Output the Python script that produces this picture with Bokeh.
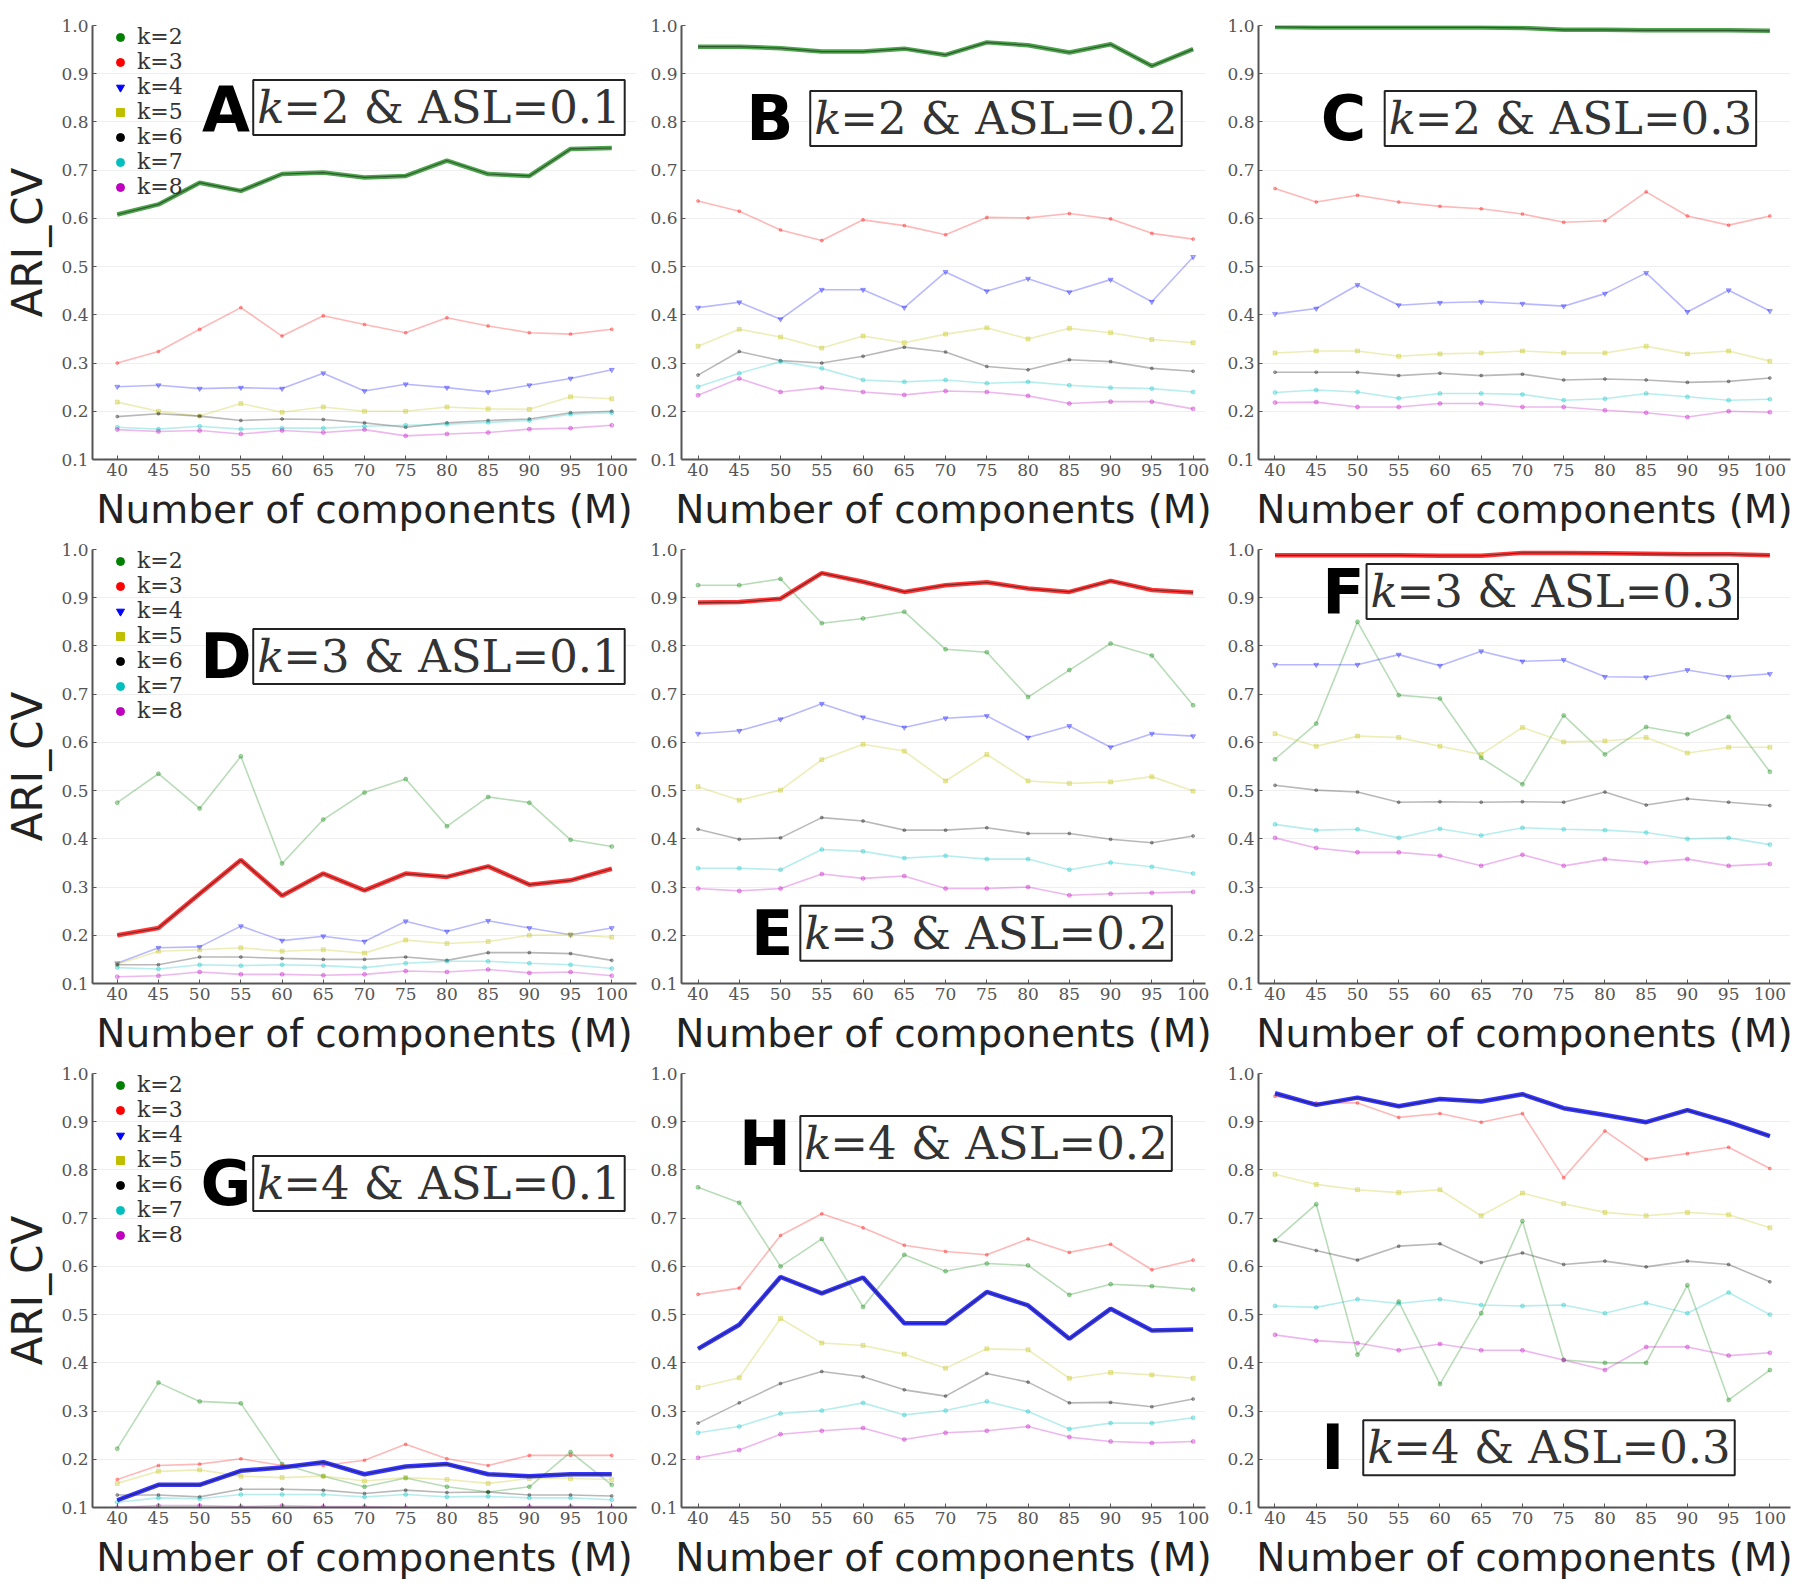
from bokeh.plotting import figure
from bokeh.layouts import gridplot
from bokeh.models import (FixedTicker, Range1d, Label, Legend, LegendItem,
                          CustomJSTickFormatter)
from bokeh.embed import file_html
from bokeh.resources import INLINE

# ---------------- data ----------------
M = [40, 45, 50, 55, 60, 65, 70, 75, 80, 85, 90, 95, 100]
Y_TICKS = [0.1, 0.2, 0.3, 0.4, 0.5, 0.6, 0.7, 0.8, 0.9, 1.0]
K_LABELS = ["k=2", "k=3", "k=4", "k=5", "k=6", "k=7", "k=8"]

A_k2 = [0.608, 0.629, 0.674, 0.657, 0.692, 0.695, 0.685, 0.688, 0.720, 0.692, 0.688, 0.744, 0.746]
A_k3 = [0.300, 0.324, 0.370, 0.415, 0.356, 0.398, 0.380, 0.363, 0.394, 0.377, 0.363, 0.360, 0.370]
A_k4 = [0.251, 0.254, 0.247, 0.249, 0.247, 0.279, 0.242, 0.256, 0.249, 0.240, 0.254, 0.268, 0.286]
A_k5 = [0.219, 0.200, 0.190, 0.216, 0.198, 0.209, 0.200, 0.200, 0.209, 0.205, 0.204, 0.230, 0.226]
A_k6 = [0.189, 0.195, 0.190, 0.181, 0.184, 0.183, 0.176, 0.167, 0.176, 0.181, 0.184, 0.197, 0.200]
A_k7 = [0.167, 0.163, 0.169, 0.163, 0.165, 0.165, 0.169, 0.171, 0.173, 0.177, 0.181, 0.194, 0.197]
A_k8 = [0.162, 0.158, 0.160, 0.153, 0.160, 0.156, 0.162, 0.149, 0.153, 0.156, 0.163, 0.165, 0.171]

B_k2 = [0.956, 0.956, 0.953, 0.946, 0.946, 0.952, 0.939, 0.965, 0.959, 0.944, 0.961, 0.916, 0.951]
B_k3 = [0.636, 0.615, 0.576, 0.554, 0.597, 0.585, 0.566, 0.602, 0.601, 0.610, 0.599, 0.569, 0.557]
B_k4 = [0.415, 0.426, 0.391, 0.452, 0.452, 0.415, 0.489, 0.449, 0.475, 0.447, 0.473, 0.427, 0.520]
B_k5 = [0.335, 0.370, 0.354, 0.331, 0.356, 0.342, 0.360, 0.373, 0.350, 0.372, 0.363, 0.349, 0.342]
B_k6 = [0.275, 0.324, 0.305, 0.300, 0.314, 0.333, 0.323, 0.293, 0.286, 0.307, 0.303, 0.289, 0.283]
B_k7 = [0.251, 0.279, 0.303, 0.289, 0.265, 0.261, 0.265, 0.258, 0.261, 0.254, 0.249, 0.247, 0.240]
B_k8 = [0.233, 0.268, 0.240, 0.249, 0.240, 0.234, 0.242, 0.240, 0.232, 0.216, 0.220, 0.220, 0.205]

C_k2 = [0.997, 0.996, 0.996, 0.996, 0.996, 0.996, 0.995, 0.991, 0.991, 0.990, 0.990, 0.990, 0.989]
C_k3 = [0.662, 0.634, 0.648, 0.634, 0.625, 0.620, 0.609, 0.592, 0.595, 0.655, 0.605, 0.586, 0.605]
C_k4 = [0.402, 0.413, 0.462, 0.420, 0.425, 0.427, 0.423, 0.418, 0.444, 0.487, 0.406, 0.451, 0.408]
C_k5 = [0.321, 0.325, 0.325, 0.314, 0.319, 0.321, 0.325, 0.321, 0.321, 0.335, 0.319, 0.325, 0.304]
C_k6 = [0.281, 0.281, 0.281, 0.274, 0.279, 0.274, 0.277, 0.265, 0.267, 0.265, 0.260, 0.262, 0.269]
C_k7 = [0.239, 0.244, 0.240, 0.227, 0.237, 0.237, 0.235, 0.223, 0.226, 0.237, 0.230, 0.223, 0.225]
C_k8 = [0.218, 0.219, 0.209, 0.209, 0.216, 0.216, 0.209, 0.209, 0.202, 0.197, 0.188, 0.200, 0.198]

D_k2 = [0.475, 0.535, 0.463, 0.571, 0.349, 0.440, 0.496, 0.524, 0.426, 0.487, 0.475, 0.398, 0.384]
D_k3 = [0.200, 0.215, 0.286, 0.356, 0.282, 0.328, 0.293, 0.328, 0.321, 0.343, 0.305, 0.314, 0.338]
D_k4 = [0.142, 0.174, 0.176, 0.219, 0.189, 0.198, 0.187, 0.229, 0.208, 0.230, 0.215, 0.201, 0.215]
D_k5 = [0.140, 0.167, 0.170, 0.174, 0.167, 0.170, 0.163, 0.190, 0.183, 0.187, 0.200, 0.201, 0.196]
D_k6 = [0.139, 0.139, 0.155, 0.155, 0.152, 0.150, 0.150, 0.155, 0.148, 0.164, 0.164, 0.162, 0.148]
D_k7 = [0.133, 0.130, 0.139, 0.137, 0.139, 0.137, 0.133, 0.142, 0.146, 0.146, 0.142, 0.139, 0.131]
D_k8 = [0.114, 0.116, 0.124, 0.119, 0.119, 0.117, 0.119, 0.126, 0.124, 0.129, 0.122, 0.124, 0.116]

E_k2 = [0.926, 0.926, 0.939, 0.847, 0.857, 0.871, 0.793, 0.787, 0.694, 0.750, 0.805, 0.780, 0.677]
E_k3 = [0.890, 0.891, 0.898, 0.951, 0.933, 0.912, 0.926, 0.932, 0.919, 0.912, 0.935, 0.916, 0.911]
E_k4 = [0.618, 0.624, 0.648, 0.680, 0.652, 0.631, 0.650, 0.655, 0.610, 0.634, 0.590, 0.618, 0.613]
E_k5 = [0.508, 0.480, 0.501, 0.564, 0.596, 0.582, 0.520, 0.575, 0.520, 0.515, 0.518, 0.529, 0.499]
E_k6 = [0.420, 0.399, 0.402, 0.444, 0.437, 0.418, 0.418, 0.423, 0.411, 0.411, 0.399, 0.392, 0.406]
E_k7 = [0.339, 0.339, 0.336, 0.378, 0.374, 0.360, 0.365, 0.358, 0.358, 0.336, 0.351, 0.342, 0.328]
E_k8 = [0.297, 0.292, 0.297, 0.327, 0.318, 0.323, 0.297, 0.297, 0.300, 0.283, 0.286, 0.288, 0.290]

F_k2 = [0.565, 0.639, 0.850, 0.698, 0.691, 0.568, 0.513, 0.656, 0.575, 0.632, 0.617, 0.653, 0.539]
F_k3 = [0.988, 0.988, 0.988, 0.988, 0.987, 0.987, 0.993, 0.993, 0.992, 0.991, 0.990, 0.990, 0.988]
F_k4 = [0.761, 0.761, 0.761, 0.782, 0.759, 0.789, 0.768, 0.771, 0.736, 0.735, 0.750, 0.736, 0.742]
F_k5 = [0.618, 0.592, 0.613, 0.610, 0.592, 0.575, 0.631, 0.601, 0.603, 0.610, 0.578, 0.590, 0.590]
F_k6 = [0.511, 0.501, 0.497, 0.476, 0.477, 0.476, 0.477, 0.476, 0.497, 0.470, 0.483, 0.476, 0.469]
F_k7 = [0.430, 0.418, 0.420, 0.402, 0.421, 0.407, 0.423, 0.420, 0.418, 0.413, 0.400, 0.402, 0.388]
F_k8 = [0.402, 0.381, 0.372, 0.372, 0.365, 0.344, 0.367, 0.344, 0.358, 0.351, 0.358, 0.344, 0.348]

G_k2 = [0.222, 0.359, 0.320, 0.316, 0.190, 0.165, 0.143, 0.161, 0.143, 0.132, 0.143, 0.215, 0.147]
G_k3 = [0.158, 0.187, 0.190, 0.201, 0.187, 0.187, 0.198, 0.231, 0.201, 0.187, 0.208, 0.208, 0.208]
G_k4 = [0.115, 0.147, 0.147, 0.176, 0.183, 0.194, 0.169, 0.185, 0.190, 0.169, 0.165, 0.169, 0.169]
G_k5 = [0.150, 0.175, 0.178, 0.165, 0.162, 0.165, 0.155, 0.162, 0.158, 0.150, 0.160, 0.160, 0.158]
G_k6 = [0.126, 0.126, 0.122, 0.138, 0.138, 0.136, 0.129, 0.136, 0.131, 0.132, 0.126, 0.126, 0.124]
G_k7 = [0.111, 0.120, 0.118, 0.127, 0.127, 0.127, 0.122, 0.127, 0.122, 0.123, 0.120, 0.120, 0.116]
G_k8 = [0.100, 0.104, 0.104, 0.102, 0.104, 0.102, 0.102, 0.100, 0.100, 0.100, 0.102, 0.102, 0.100]

H_k2 = [0.764, 0.732, 0.600, 0.657, 0.516, 0.624, 0.590, 0.606, 0.602, 0.541, 0.563, 0.559, 0.552]
H_k3 = [0.542, 0.555, 0.664, 0.709, 0.680, 0.644, 0.631, 0.624, 0.657, 0.629, 0.646, 0.593, 0.613]
H_k4 = [0.429, 0.479, 0.578, 0.544, 0.577, 0.482, 0.482, 0.547, 0.519, 0.450, 0.512, 0.467, 0.469]
H_k5 = [0.349, 0.369, 0.492, 0.441, 0.436, 0.418, 0.389, 0.429, 0.427, 0.368, 0.380, 0.375, 0.368]
H_k6 = [0.275, 0.317, 0.357, 0.382, 0.371, 0.344, 0.331, 0.378, 0.360, 0.317, 0.318, 0.309, 0.325]
H_k7 = [0.255, 0.268, 0.295, 0.301, 0.317, 0.292, 0.301, 0.320, 0.299, 0.263, 0.275, 0.275, 0.286]
H_k8 = [0.203, 0.219, 0.252, 0.259, 0.265, 0.241, 0.255, 0.259, 0.268, 0.246, 0.237, 0.234, 0.237]

I_k2 = [0.654, 0.729, 0.417, 0.527, 0.356, 0.503, 0.694, 0.406, 0.400, 0.400, 0.561, 0.323, 0.385]
I_k3 = [0.953, 0.939, 0.939, 0.909, 0.917, 0.899, 0.917, 0.784, 0.881, 0.822, 0.834, 0.847, 0.803]
I_k4 = [0.959, 0.935, 0.950, 0.932, 0.947, 0.942, 0.957, 0.928, 0.914, 0.899, 0.924, 0.899, 0.870]
I_k5 = [0.791, 0.770, 0.759, 0.753, 0.759, 0.705, 0.752, 0.730, 0.712, 0.705, 0.712, 0.707, 0.680]
I_k6 = [0.654, 0.633, 0.613, 0.642, 0.647, 0.608, 0.628, 0.604, 0.611, 0.599, 0.611, 0.604, 0.568]
I_k7 = [0.518, 0.515, 0.532, 0.523, 0.532, 0.520, 0.518, 0.520, 0.503, 0.524, 0.503, 0.546, 0.500]
I_k8 = [0.458, 0.446, 0.441, 0.426, 0.439, 0.426, 0.426, 0.406, 0.385, 0.433, 0.433, 0.415, 0.421]

# ---------------- styling ----------------
COLORS = ["#008000", "#ff0000", "#0000ff", "#bfbf00", "#000000", "#00bfbf", "#bf00bf"]
THICK = ["#3a9a3a", "#ff2020", "#2020ff", "#bfbf00", "#000000", "#00bfbf", "#bf00bf"]
MARKERS = ["circle", "circle", "inverted_triangle", "square", "circle", "circle", "circle"]
LEG_SIZES = [12, 6, 12, 11, 6, 11, 9]
PT_SIZES = [4, 3, 5, 4, 3, 4, 4]

# per column layout: frame width, x range, border left/right
COL_FRAME_W = [544, 524, 532]
COL_XR = [(37.0, 103.0), (38.0, 101.5), (38.0, 102.5)]
COL_BL = [86, 40, 43]
COL_BR = [5, 10, 8]
ROW_BT = [25, 12, 12]

# panel: letter, k, ASL, series, index of true k, annotation (letter x,y ; box x,y) in data units
PANELS = [
    ("A", "2", "0.1", [A_k2, A_k3, A_k4, A_k5, A_k6, A_k7, A_k8], 0, (53.2, 0.826, 56.5, 0.830)),
    ("B", "2", "0.2", [B_k2, B_k3, B_k4, B_k5, B_k6, B_k7, B_k8], 0, (48.7, 0.807, 53.6, 0.807)),
    ("C", "2", "0.3", [C_k2, C_k3, C_k4, C_k5, C_k6, C_k7, C_k8], 0, (48.3, 0.807, 53.3, 0.807)),
    ("D", "3", "0.1", [D_k2, D_k3, D_k4, D_k5, D_k6, D_k7, D_k8], 1, (53.2, 0.778, 56.5, 0.778)),
    ("E", "3", "0.2", [E_k2, E_k3, E_k4, E_k5, E_k6, E_k7, E_k8], 1, (49.0, 0.204, 52.4, 0.204)),
    ("F", "3", "0.3", [F_k2, F_k3, F_k4, F_k5, F_k6, F_k7, F_k8], 1, (48.3, 0.913, 51.1, 0.913)),
    ("G", "4", "0.1", [G_k2, G_k3, G_k4, G_k5, G_k6, G_k7, G_k8], 2, (53.2, 0.772, 56.5, 0.772)),
    ("H", "4", "0.2", [H_k2, H_k3, H_k4, H_k5, H_k6, H_k7, H_k8], 2, (48.1, 0.855, 52.4, 0.855)),
    ("I", "4", "0.3", [I_k2, I_k3, I_k4, I_k5, I_k6, I_k7, I_k8], 2, (47.0, 0.224, 50.7, 0.224)),
]

BOX_FONT = "45px"


def make_panel(i, cfg):
    letter, kval, asl, series, true_i, ann = cfg
    col, row = i % 3, i // 3
    p = figure(output_backend="svg", toolbar_location=None,
               frame_width=COL_FRAME_W[col], frame_height=434,
               x_range=Range1d(*COL_XR[col]), y_range=Range1d(0.1, 1.0),
               min_border_left=COL_BL[col], min_border_right=COL_BR[col],
               min_border_top=ROW_BT[row], min_border_bottom=78)
    p.outline_line_color = None
    p.background_fill_color = "white"
    p.border_fill_color = "white"
    p.xgrid.visible = False
    p.ygrid.grid_line_color = "#e4e4e4"
    p.ygrid.grid_line_alpha = 0.6
    p.ygrid.ticker = FixedTicker(ticks=Y_TICKS)

    for ax in (p.xaxis[0], p.yaxis[0]):
        ax.axis_line_color = "#555555"
        ax.axis_line_width = 2
        ax.major_tick_in = 4
        ax.major_tick_out = 0
        ax.major_tick_line_color = "#555555"
        ax.minor_tick_line_color = None
        ax.major_label_text_font = "DejaVu Serif"
        ax.major_label_text_font_size = "17px"
        ax.major_label_text_color = "#555555"
        ax.major_label_standoff = 4
    p.xaxis.ticker = FixedTicker(ticks=M)
    p.yaxis.ticker = FixedTicker(ticks=Y_TICKS)
    p.yaxis.formatter = CustomJSTickFormatter(code="return tick.toFixed(1);")

    p.xaxis.axis_label = "Number of components (M)"
    p.xaxis.axis_label_text_font = "DejaVu Sans"
    p.xaxis.axis_label_text_font_style = "normal"
    p.xaxis.axis_label_text_font_size = "39px"
    p.xaxis.axis_label_text_color = "#222222"
    p.xaxis.axis_label_standoff = 8
    if col == 0:
        p.yaxis.axis_label = "ARI_CV"
        p.yaxis.axis_label_text_font = "DejaVu Sans"
        p.yaxis.axis_label_text_font_style = "normal"
        p.yaxis.axis_label_text_font_size = "42px"
        p.yaxis.axis_label_text_color = "#222222"
        p.yaxis.axis_label_standoff = 6

    # faded series
    for j, vals in enumerate(series):
        if j == true_i:
            continue
        p.line(M, vals, line_color=COLORS[j], line_width=1.6, line_alpha=0.28)
        p.scatter(M, vals, marker=MARKERS[j], size=PT_SIZES[j],
                  fill_color=COLORS[j], line_color=COLORS[j], alpha=0.3)
    # highlighted (true k) series
    vals = series[true_i]
    p.line(M, vals, line_color=THICK[true_i], line_width=4.5, line_alpha=0.9)
    p.line(M, vals, line_color="#1a1a1a", line_width=1.2, line_alpha=0.55)

    # legend (left column only): hidden full-alpha marker renderers feed the legend glyphs
    if col == 0:
        items = []
        for j, lab in enumerate(K_LABELS):
            r = p.scatter(M, series[j], marker=MARKERS[j], size=LEG_SIZES[j],
                          fill_color=COLORS[j], line_color=COLORS[j], visible=False)
            items.append(LegendItem(label=lab, renderers=[r]))
        leg = Legend(items=items, location=(18, 260),
                     background_fill_alpha=0, border_line_alpha=0,
                     inactive_fill_alpha=0,
                     label_text_font="DejaVu Serif", label_text_font_size="22px",
                     label_text_color="#333333", glyph_width=20, glyph_height=20,
                     label_height=20, spacing=0, padding=0, margin=0,
                     label_standoff=7)
        p.add_layout(leg)

    lx, ly, bx, by = ann
    p.add_layout(Label(x=lx, y=ly, text=letter, text_font="DejaVu Sans",
                       text_font_style="bold", text_font_size="62px",
                       text_color="black", text_align="center",
                       text_baseline="middle"))
    p.add_layout(Label(x=bx, y=by, text="=" + kval + " & ASL=" + asl,
                       text_font="DejaVu Serif", text_font_size=BOX_FONT,
                       text_color="#333333", text_align="left",
                       text_baseline="middle",
                       background_fill_color="white", background_fill_alpha=1,
                       border_line_color="#222222", border_line_width=2,
                       padding=dict(left=30, right=4, top=1, bottom=1)))
    p.add_layout(Label(x=bx, y=by, text="k", text_font="DejaVu Serif",
                       text_font_style="italic", text_font_size=BOX_FONT,
                       text_color="#333333", text_align="left",
                       text_baseline="middle", x_offset=4))
    return p


figs = [make_panel(i, cfg) for i, cfg in enumerate(PANELS)]
grid = gridplot([figs[0:3], figs[3:6], figs[6:9]], toolbar_location=None)

open("out.html", "w").write(file_html(grid, INLINE))
